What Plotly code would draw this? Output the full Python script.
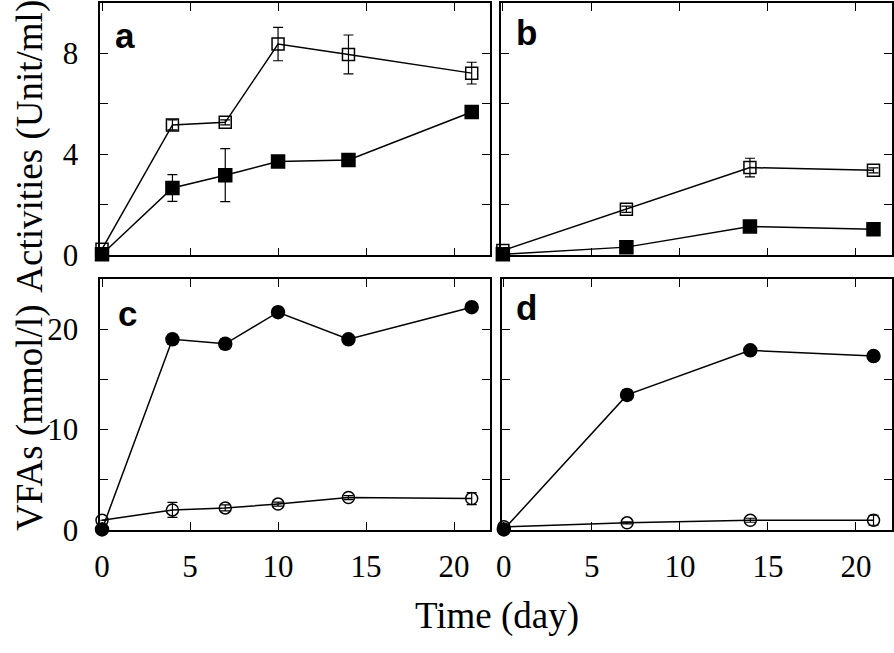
import plotly.graph_objects as go

W, H = 894, 653

# ---- data ----
days_a = [0, 4, 7, 10, 14, 21]
a_open = [0.25, 5.17, 5.27, 8.37, 7.96, 7.22]
a_open_err = [0, 0.2, 0.1, 0.66, 0.77, 0.43]
a_filled = [0.05, 2.67, 3.18, 3.72, 3.78, 5.68]
a_filled_err = [0, 0.53, 1.05, 0.1, 0.1, 0.2]

days_b = [0, 7, 14, 21]
b_open = [0.2, 1.83, 3.48, 3.37]
b_open_err = [0, 0.12, 0.37, 0.1]
b_filled = [0.05, 0.33, 1.15, 1.04]
b_filled_err = [0, 0.05, 0.05, 0.05]

days_c = [0, 4, 7, 10, 14, 21]
c_filled = [0.05, 19.0, 18.55, 21.7, 19.0, 22.2]
c_filled_err = [0, 0.5, 0.5, 0.2, 0.2, 0.2]
c_open = [0.97, 2.0, 2.2, 2.58, 3.23, 3.13]
c_open_err = [0, 0.75, 0.3, 0.2, 0.2, 0.6]

days_d = [0, 7, 14, 21]
d_filled = [0.05, 13.46, 17.9, 17.33]
d_filled_err = [0, 0.5, 0.2, 0.2]
d_open = [0.32, 0.71, 0.97, 0.97]
d_open_err = [0, 0.1, 0.2, 0.5]

x_tickvals = [0, 5, 10, 15, 20]
x_ticktext = ["0", "5", "10", "15", "20"]
act_tickvals = [0, 2, 4, 6, 8]
act_ticktext = ["0", "", "4", "", "8"]
vfa_tickvals = [0, 5, 10, 15, 20]
vfa_ticktext = ["0", "", "10", "", "20"]

panel_labels = ["a", "b", "c", "d"]
ytitle_top = "Activities (Unit/ml)"
ytitle_bottom = "VFAs (mmol/l)"
xtitle = "Time (day)"

# ---- layout helpers (pixel -> paper) ----
def px(x):
    return x / W

def py(y):
    return 1 - y / H

SERIF = "Liberation Serif, Times New Roman, serif"
SANS = "Liberation Sans, Arial, sans-serif"

fig = go.Figure()

def add(xs, ys, err, symbol, size, axis_suffix):
    fig.add_trace(go.Scatter(
        x=xs, y=ys, mode="lines+markers",
        line=dict(color="black", width=1.5),
        marker=dict(symbol=symbol, size=size, color="black",
                    line=dict(color="black", width=1.5)),
        error_y=dict(type="data", array=err, visible=True, color="black",
                     thickness=1.2, width=5),
        cliponaxis=False, showlegend=False,
        xaxis="x" + axis_suffix, yaxis="y" + axis_suffix,
    ))

add(days_a, a_open, a_open_err, "square-open", 12, "")
add(days_a, a_filled, a_filled_err, "square", 13, "")
add(days_b, b_open, b_open_err, "square-open", 12, "2")
add(days_b, b_filled, b_filled_err, "square", 13, "2")
add(days_c, c_open, c_open_err, "circle-open", 12, "3")
add(days_c, c_filled, c_filled_err, "circle", 13, "3")
add(days_d, d_open, d_open_err, "circle-open", 12, "4")
add(days_d, d_filled, d_filled_err, "circle", 13, "4")

# panel pixel boxes: (left, right, top, bottom)
boxes = {
    "": (95, 488, 3, 262.7),
    "2": (499, 893, 3, 262.7),
    "3": (95, 488, 287, 545),
    "4": (500, 893, 287, 545),
}

common_axis = dict(showline=True, linecolor="black", linewidth=1.5, mirror="allticks",
                   ticks="inside", ticklen=8, tickwidth=1.2, tickcolor="black",
                   showgrid=False, zeroline=False,
                   tickfont=dict(family=SERIF, size=31, color="black"))

layout = dict(width=W, height=H, margin=dict(l=0, r=0, t=0, b=0),
              plot_bgcolor="white", paper_bgcolor="white", showlegend=False)

for key, (l, r, t, b) in boxes.items():
    top_row = key in ("", "2")
    left_col = key in ("", "3")
    xa = dict(common_axis, domain=[px(l), px(r)], range=[-0.1, 22.05],
              tickvals=x_tickvals, ticktext=x_ticktext,
              showticklabels=not top_row, ticklabelstandoff=8,
              anchor="y" + key)
    ya = dict(common_axis, domain=[py(b), py(t)],
              range=[0, 10] if top_row else [0, 25],
              tickvals=act_tickvals if top_row else vfa_tickvals,
              ticktext=act_ticktext if top_row else vfa_ticktext,
              showticklabels=left_col, ticklabelstandoff=14,
              anchor="x" + key)
    layout["xaxis" + key] = xa
    layout["yaxis" + key] = ya

annotations = []
letter_pos = [(108, 36), (512, 33), (111, 322), (512, 316)]
for lab, (x, y) in zip(panel_labels, letter_pos):
    annotations.append(dict(text="<b>" + lab + "</b>", x=px(x), y=py(y),
                            xref="paper", yref="paper", xanchor="left", yanchor="middle",
                            showarrow=False,
                            font=dict(family=SANS, size=35, color="black")))
annotations.append(dict(text=ytitle_top, x=px(24), y=py(150), xref="paper", yref="paper",
                        textangle=-90, showarrow=False, xanchor="center", yanchor="middle",
                        font=dict(family=SERIF, size=37, color="black")))
annotations.append(dict(text=ytitle_bottom, x=px(24), y=py(430), xref="paper", yref="paper",
                        textangle=-90, showarrow=False, xanchor="center", yanchor="middle",
                        font=dict(family=SERIF, size=37, color="black")))
annotations.append(dict(text=xtitle, x=px(495), y=py(633), xref="paper", yref="paper",
                        showarrow=False, xanchor="center", yanchor="middle",
                        font=dict(family=SERIF, size=37, color="black")))
layout["annotations"] = annotations

fig.update_layout(**layout)
post = ("document.documentElement.style.margin='0';"
        "document.documentElement.style.overflow='hidden';"
        "document.body.style.margin='0';document.body.style.overflow='hidden';"
        "var gd=document.getElementById('{plot_id}');"
        "gd.style.position='fixed';gd.style.left='0px';gd.style.top='0px';")
fig.write_html("out.html", config={"displayModeBar": False}, post_script=post)
